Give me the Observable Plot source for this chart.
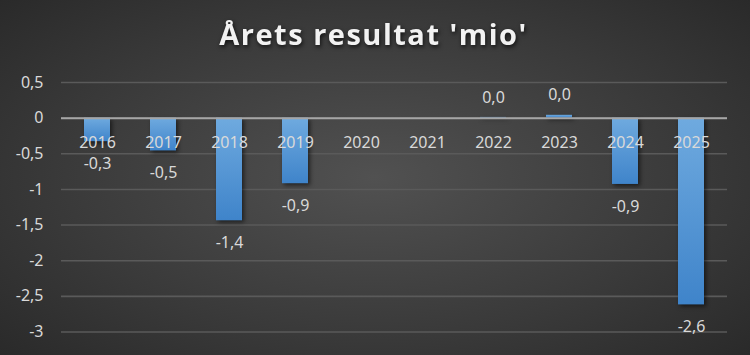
<!DOCTYPE html>
<html>
<head>
<meta charset="utf-8">
<script src="https://cdn.jsdelivr.net/npm/d3@7"></script>
<script src="https://cdn.jsdelivr.net/npm/@observablehq/plot@0.6"></script>
<style>
  html, body { margin: 0; padding: 0; background: #262626; }
  #chart {
    width: 750px; height: 355px; overflow: hidden;
    background: radial-gradient(ellipse 75% 80% at 50% 50%, #515151 0%, #3a3a3a 55%, #262626 100%);
  }
  #chart svg { display: block; }
  #chart .chart-title {
    letter-spacing: 1.5px;
    filter: drop-shadow(1px 2px 2px rgba(0,0,0,0.7));
  }
  #chart g[aria-label="bar"] rect {
    filter: drop-shadow(2px 2px 2px rgba(0,0,0,0.55));
  }
</style>
</head>
<body>
<div id="chart"></div>
<script>
// Annual result in millions, per year
const title = "Årets resultat 'mio'";
const years = ["2016", "2017", "2018", "2019", "2020", "2021", "2022", "2023", "2024", "2025"];
const result = [-0.33, -0.46, -1.44, -0.92, null, null, 0.01, 0.04, -0.93, -2.62];
const yTicks = [0.5, 0, -0.5, -1, -1.5, -2, -2.5, -3];

// Danish-style number formatting: comma as decimal separator
const fmtTick = d => Number.isInteger(d) ? String(d) : d.toFixed(1).replace(".", ",");
const fmtValue = d => d.toFixed(1).replace(".", ",");

const data = years
  .map((year, i) => ({year, value: result[i]}))
  .filter(d => d.value != null);

const gradient = () => {
  const defs = d3.create("svg:defs");
  const g = defs.append("linearGradient")
    .attr("id", "barGrad").attr("x1", 0).attr("y1", 0).attr("x2", 0).attr("y2", 1);
  g.append("stop").attr("offset", "0%").attr("stop-color", "#6faadf");
  g.append("stop").attr("offset", "100%").attr("stop-color", "#3f84ca");
  return defs.node();
};

const chart = Plot.plot({
  width: 750,
  height: 355,
  marginTop: 82,
  marginBottom: 23.5,
  marginLeft: 61,
  marginRight: 23,
  style: {background: "transparent", color: "#d9d9d9", fontFamily: "'Noto Sans', sans-serif", fontSize: "16px"},
  x: {domain: years, paddingInner: 0.6, paddingOuter: 0.3, axis: null},
  y: {domain: [-3, 0.5], ticks: yTicks, axis: null},
  marks: [
    gradient,
    Plot.gridY(yTicks, {stroke: "#5a5a5a", strokeOpacity: 1, strokeWidth: 1.6}),
    Plot.axisY(yTicks, {tickSize: 0, tickPadding: 18, tickFormat: fmtTick, fontSize: 16, fill: "#d9d9d9", label: null}),
    Plot.barY(data, {x: "year", y: "value", fill: "url(#barGrad)"}),
    Plot.ruleY([0], {stroke: "#a6a6a6", strokeWidth: 2}),
    Plot.text(years, {x: d => d, y: () => 0, dy: 24.5, fill: "#d9d9d9", fontSize: 16}),
    Plot.text(data.filter(d => d.value < 0), {x: "year", y: "value", text: d => fmtValue(d.value), dy: 22, fill: "#d9d9d9", fontSize: 16}),
    Plot.text(data.filter(d => d.value >= 0), {x: "year", y: "value", text: d => fmtValue(d.value), dy: -20, fill: "#d9d9d9", fontSize: 16}),
    // title centred on the page rather than on the plot frame
    Plot.text([title], {frameAnchor: "top", dx: -21, dy: -58, fontSize: 29, fontWeight: "bold", fill: "#f2f2f2", fontFamily: "'Open Sans', sans-serif"})
  ]
});

// tag the title so it can take letter spacing and a soft shadow
d3.select(chart).selectAll("text")
  .filter(function() { return this.textContent === title; })
  .classed("chart-title", true);

document.getElementById("chart").append(chart);
</script>
</body>
</html>
